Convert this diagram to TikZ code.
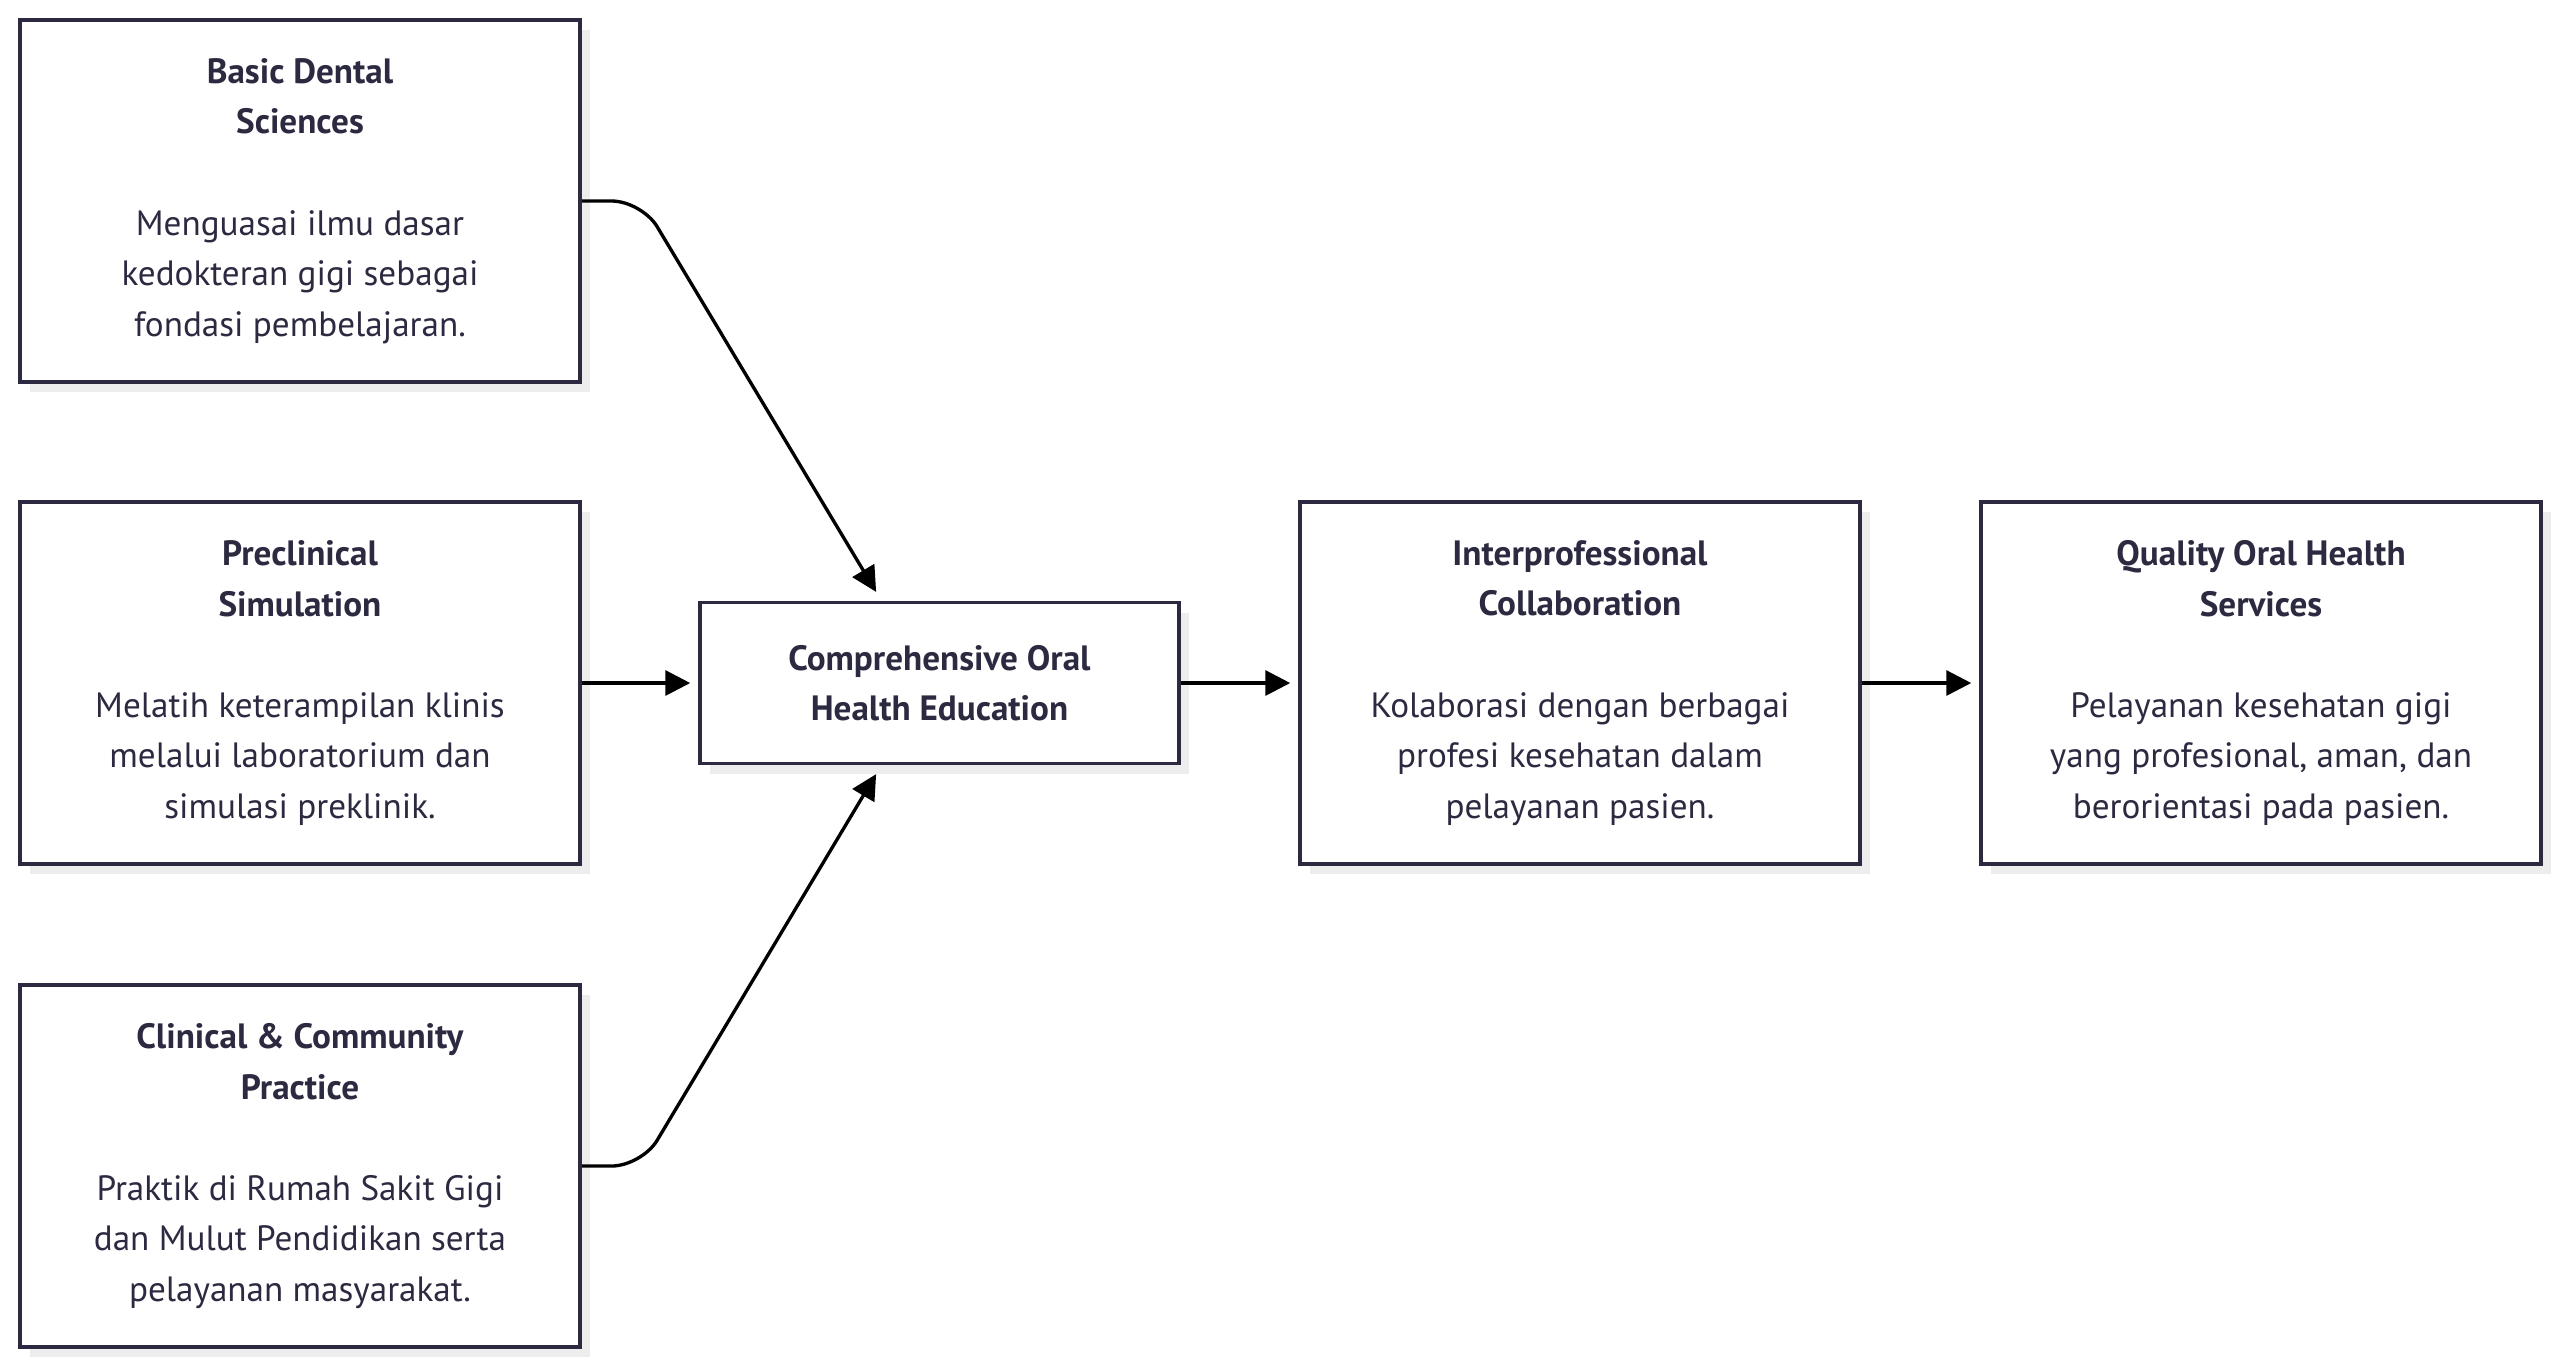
\documentclass[tikz,border=0pt]{standalone}
\usepackage{fontspec}
\setmainfont{PT Sans}
\usetikzlibrary{arrows.meta,shadows}
\definecolor{ink}{HTML}{2C2A40}
\tikzset{
   box/.style={draw=ink, line width=1pt, fill=white, text=ink, align=center,
      minimum width=5.6cm, minimum height=3.62cm,
      font=\fontsize{10}{14.4}\selectfont,
      drop shadow={shadow xshift=0.1cm, shadow yshift=-0.1cm, fill=black!7, opacity=1}},
   arr/.style={draw=black, line width=0.95pt, -{Triangle[length=0.25cm, width=0.25cm]}, shorten >=0.08cm}
}
\begin{document}
\begin{tikzpicture}
   \useasboundingbox (0,0) rectangle (25.6,-13.67);
   \def \Boxes {
      basic/3.0/-2.01/{Basic Dental}/{Sciences}/{Menguasai ilmu dasar\\kedokteran gigi sebagai\\fondasi pembelajaran.},
      precl/3.0/-6.83/{Preclinical}/{Simulation}/{Melatih keterampilan klinis\\melalui laboratorium dan\\simulasi preklinik.},
      clin/3.0/-11.66/{Clinical \& Community}/{Practice}/{Praktik di Rumah Sakit Gigi\\dan Mulut Pendidikan serta\\pelayanan masyarakat.},
      inter/15.8/-6.83/{Interprofessional}/{Collaboration}/{Kolaborasi dengan berbagai\\profesi kesehatan dalam\\pelayanan pasien.},
      qual/22.61/-6.83/{Quality Oral Health}/{Services}/{Pelayanan kesehatan gigi\\yang profesional, aman, dan\\berorientasi pada pasien.}}
   \foreach \no / \x / \y / \ta / \tb / \tx in \Boxes {
      \node[box] (\no) at (\x, \y){\textbf{\ta}\\\textbf{\tb}\\[14.4pt]\tx};
   }
   \node[box, minimum width=4.79cm, minimum height=1.61cm] (edu) at (9.395, -6.83)
      {\textbf{Comprehensive Oral}\\\textbf{Health Education}};
   % connectors
   \draw[arr, rounded corners=0.3cm] (basic.east) -- ++(0.6,0) -- ([xshift=1.82cm, yshift=0.02cm]edu.north west);
   \draw[arr, rounded corners=0.3cm] (clin.east) -- ++(0.6,0) -- ([xshift=1.82cm, yshift=-0.02cm]edu.south west);
   \draw[arr] (precl) -- (edu);
   \draw[arr] (edu) -- (inter);
   \draw[arr] (inter) -- (qual);
\end{tikzpicture}
\end{document}
